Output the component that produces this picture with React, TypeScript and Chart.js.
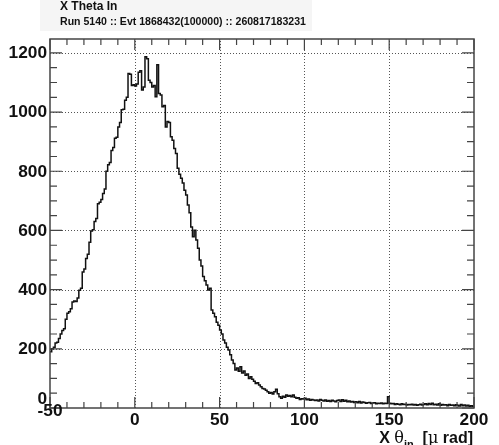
import React, { useEffect, useRef } from "react";
import { Chart, registerables } from "chart.js";
Chart.register(...registerables);

const titleLine1 = "X Theta In";
const titleLine2 = "Run 5140 :: Evt 1868432(100000) :: 260817183231";

const xMin = -50;
const xMax = 200;
const binWidth = 1;
const yMin = 0;
const yMax = 1247;

const xTickValues = [-50, 0, 50, 100, 150, 200];
const xTickLabels = ["-50", "0", "50", "100", "150", "200"];
const yTickValues = [0, 200, 400, 600, 800, 1000, 1200];
const yTickLabels = ["0", "200", "400", "600", "800", "1000", "1200"];

// bin contents, bins of width 1 starting at -50
const counts = [
  190, 200, 205, 220, 222, 235, 250, 262, 268, 300,
  320, 325, 335, 358, 362, 360, 372, 398, 405, 460,
  470, 505, 520, 560, 598, 602, 630, 640, 690, 695,
  705, 725, 740, 800, 822, 830, 870, 880, 912, 915,
  950, 965, 1008, 1010, 1040, 1050, 1130, 1128, 1090, 1092,
  1088, 1095, 1135, 1140, 1075, 1085, 1187, 1180, 1108, 1100,
  1085, 1090, 1052, 1160, 1063, 1058, 1018, 1022, 950, 968,
  965, 917, 905, 877, 860, 810, 790, 776, 760, 736,
  720, 686, 660, 612, 579, 601, 568, 540, 500, 480,
  444, 430, 416, 399, 405, 331, 320, 308, 290, 280,
  264, 250, 230, 220, 205, 196, 180, 162, 150, 128,
  135, 124, 139, 118, 125, 111, 115, 100, 106, 97,
  90, 83, 85, 78, 72, 66, 64, 60, 55, 50,
  52, 47, 55, 63, 48, 38, 33, 40, 36, 44,
  40, 42, 38, 44, 36, 33, 35, 29, 31, 30,
  33, 28, 30, 26, 29, 27, 25, 27, 24, 29,
  26, 24, 27, 23, 25, 22, 26, 24, 21, 25,
  27, 22, 28, 23, 26, 21, 24, 20, 22, 19,
  21, 18, 22, 17, 20, 19, 16, 18, 19, 15,
  17, 18, 14, 16, 15, 17, 14, 16, 15, 38,
  16, 14, 15, 12, 14, 13, 11, 14, 12, 13,
  10, 12, 11, 13, 10, 12, 9, 11, 13, 10,
  12, 14, 11, 15, 12, 16, 11, 13, 10, 14,
  9, 12, 10, 11, 8, 12, 9, 10, 8, 11,
  9, 7, 12, 8, 10, 7, 9, 6, 8, 6,
];

const FONT = "'Liberation Sans', Arial, Helvetica, sans-serif";

function stretchedText(ctx: CanvasRenderingContext2D, text: string, x: number, y: number, align: CanvasTextAlign, sx: number) {
  ctx.save();
  ctx.translate(x, y);
  ctx.scale(sx, 1);
  ctx.textAlign = align;
  ctx.fillText(text, 0, 0);
  ctx.restore();
}

const rootPlugin = {
  id: "rootStyle",
  beforeDraw(chart: any) {
    const ctx: CanvasRenderingContext2D = chart.ctx;
    ctx.save();
    ctx.fillStyle = "#ffffff";
    ctx.fillRect(0, 0, chart.width, chart.height);
    ctx.fillStyle = "#f5f5f5";
    ctx.fillRect(40, 0, 272, 31);
    ctx.fillStyle = "#111";
    ctx.textBaseline = "alphabetic";
    ctx.font = `bold 12px ${FONT}`;
    stretchedText(ctx, titleLine1, 60, 10, "left", 1);
    ctx.font = `bold 11px ${FONT}`;
    stretchedText(ctx, titleLine2, 60, 25, "left", 0.96);
    ctx.restore();
  },
  beforeDatasetsDraw(chart: any) {
    const ctx: CanvasRenderingContext2D = chart.ctx;
    const { left, right, top, bottom } = chart.chartArea;
    const xs = chart.scales.x;
    const ys = chart.scales.y;
    ctx.save();
    ctx.strokeStyle = "#555";
    ctx.lineWidth = 1;
    ctx.setLineDash([1, 2]);
    for (const v of xTickValues) {
      if (v === xMin || v === xMax) continue;
      const px = Math.round(xs.getPixelForValue(v)) + 0.5;
      ctx.beginPath();
      ctx.moveTo(px, bottom);
      ctx.lineTo(px, top);
      ctx.stroke();
    }
    for (const v of yTickValues) {
      if (v === yMin) continue;
      const py = Math.round(ys.getPixelForValue(v)) + 0.5;
      ctx.beginPath();
      ctx.moveTo(left, py);
      ctx.lineTo(right, py);
      ctx.stroke();
    }
    ctx.restore();
  },
  afterDatasetsDraw(chart: any) {
    const ctx: CanvasRenderingContext2D = chart.ctx;
    const { left, right, top, bottom } = chart.chartArea;
    const xs = chart.scales.x;
    const ys = chart.scales.y;
    ctx.save();
    ctx.strokeStyle = "#444";
    ctx.lineWidth = 1.5;
    ctx.strokeRect(left, top, right - left, bottom - top);
    ctx.lineWidth = 1.2;
    for (let v = xMin; v <= xMax; v += 10) {
      const px = xs.getPixelForValue(v);
      const len = v % 50 === 0 ? 11 : 6;
      ctx.beginPath();
      ctx.moveTo(px, bottom);
      ctx.lineTo(px, bottom - len);
      ctx.moveTo(px, top);
      ctx.lineTo(px, top + len);
      ctx.stroke();
    }
    for (let v = yMin; v <= yMax; v += 50) {
      const py = ys.getPixelForValue(v);
      const len = v % 200 === 0 ? 12 : 7;
      ctx.beginPath();
      ctx.moveTo(left, py);
      ctx.lineTo(left + len, py);
      ctx.moveTo(right, py);
      ctx.lineTo(right - len, py);
      ctx.stroke();
    }
    ctx.fillStyle = "#111";
    ctx.font = `bold 16px ${FONT}`;
    ctx.textBaseline = "alphabetic";
    xTickValues.forEach((v, i) => {
      const px = xs.getPixelForValue(v);
      const base = v === xMin ? 416 : 425;
      stretchedText(ctx, xTickLabels[i], px, base, "center", 1.08);
    });
    ctx.textBaseline = "middle";
    yTickValues.forEach((v, i) => {
      const py = v === yMin ? 400 : ys.getPixelForValue(v) + 1;
      stretchedText(ctx, yTickLabels[i], 47, py, "right", 1.08);
    });
    ctx.textBaseline = "alphabetic";
    const base = 443;
    const parts: [string, string, number][] = [
      ["X ", `bold 16px ${FONT}`, 0],
      ["\u03b8", `16px 'DejaVu Serif', serif`, 0],
      ["in", `bold 11px ${FONT}`, 5],
      ["  [", `bold 16px ${FONT}`, 0],
      ["\u03bc", `16px 'DejaVu Serif', serif`, 0],
      [" rad]", `bold 16px ${FONT}`, 0],
    ];
    let total = 0;
    for (const [t, f] of parts) {
      ctx.font = f;
      total += ctx.measureText(t).width;
    }
    let x = 473 - total;
    ctx.textAlign = "left";
    for (const [t, f, dy] of parts) {
      ctx.font = f;
      ctx.fillText(t, x, base + dy);
      x += ctx.measureText(t).width;
    }
    ctx.restore();
  },
};

export default function App() {
  const ref = useRef<HTMLCanvasElement | null>(null);
  useEffect(() => {
    if (!ref.current) return;
    const pts = counts.map((c, i) => ({ x: xMin + i * binWidth, y: c }));
    pts.push({ x: xMax, y: counts[counts.length - 1] });
    const chart = new Chart(ref.current, {
      type: "line",
      data: {
        datasets: [
          {
            data: pts,
            stepped: "before" as any,
            borderColor: "#111",
            borderWidth: 1.5,
            pointRadius: 0,
            fill: false,
          },
        ],
      },
      options: {
        animation: false,
        responsive: false,
        events: [],
        layout: { padding: { left: 50, right: 25, top: 39, bottom: 37 } },
        plugins: { legend: { display: false }, tooltip: { enabled: false } },
        scales: {
          x: { type: "linear", min: xMin, max: xMax, display: false },
          y: { type: "linear", min: yMin, max: yMax, display: false },
        },
      },
      plugins: [rootPlugin],
    });
    return () => chart.destroy();
  }, []);
  return (
    <div style={{ position: "fixed", left: 0, top: 0, width: 499, height: 445 }}>
      <canvas ref={ref} width={499} height={445} style={{ display: "block" }} />
    </div>
  );
}
